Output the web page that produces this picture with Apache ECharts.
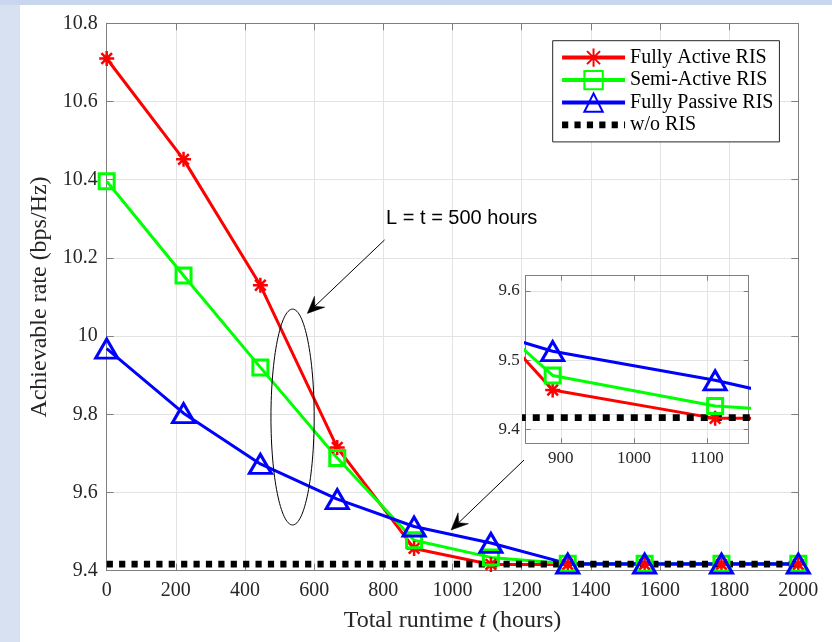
<!DOCTYPE html>
<html>
<head>
<meta charset="utf-8">
<script src="https://cdn.jsdelivr.net/npm/echarts@6/dist/echarts.min.js"></script>
<style>
  html, body { margin: 0; padding: 0; width: 832px; height: 642px; overflow: hidden; background: #d8e1f2; }
  #topband { position: absolute; left: 0; top: 0; width: 832px; height: 5px; background: #c8d6ee; }
  #paper { position: absolute; left: 20px; top: 5px; width: 812px; height: 637px; background: #ffffff; }
  #chart { position: absolute; left: 0; top: 0; width: 832px; height: 642px; }
</style>
</head>
<body>
<div id="topband"></div>
<div id="paper"></div>
<div id="chart"></div>
<script>
// Total runtime t (hours) at which each scheme is evaluated
const runtimeHours = [0, 222.2, 444.4, 666.7, 888.9, 1111.1, 1333.3, 1555.6, 1777.8, 2000];

// Achievable rate (bps/Hz)
const fullyActive  = [10.71, 10.452, 10.13, 9.715, 9.457, 9.416, 9.416, 9.416, 9.416, 9.416];
const semiActive   = [10.396, 10.155, 9.92, 9.688, 9.478, 9.434, 9.418, 9.418, 9.418, 9.418];
const fullyPassive = [9.968, 9.803, 9.673, 9.583, 9.513, 9.471, 9.418, 9.418, 9.418, 9.418];
const withoutRIS   = [9.417, 9.417, 9.417, 9.417, 9.417, 9.417, 9.417, 9.417, 9.417, 9.417];

const seriesNames = ['Fully Active RIS', 'Semi-Active RIS', 'Fully Passive RIS', 'w/o RIS'];

// Axis ranges
const mainX = { min: 0, max: 2000, interval: 200 };
const mainY = { min: 9.4, max: 10.8, interval: 0.2 };
const zoomX = { min: 852, max: 1157 };
const zoomY = { min: 9.38, max: 9.622 };

// Annotation anchors in data coordinates of the main axes
const calloutText = 'L = t = 500 hours';
const calloutTextAt = [808, 10.301];
const calloutArrow = [[803.6, 10.246], [580.1, 10.058]];
const ellipseXRange = [475, 600];
const ellipseYRange = [9.517, 10.069];
const zoomArrow = [[1206.8, 9.683], [995.7, 9.504]];

const SERIF = '"Liberation Serif", "Times New Roman", serif';
const SANS = '"Liberation Sans", Arial, sans-serif';
const AXIS_GREY = '#7f7f7f';
const GRID_GREY = '#e3e3e3';
const TEXT_DARK = '#262626';

const starPath = 'path://M0,-10L0,10M-10,0L10,0M-7.07,-7.07L7.07,7.07M-7.07,7.07L7.07,-7.07';

const pairs = (ys) => runtimeHours.map((x, i) => [x, ys[i]]);

function curves(xi, yi, dash) {
  const common = { type: 'line', xAxisIndex: xi, yAxisIndex: yi, clip: true, silent: true,
                   emphasis: { disabled: true }, animation: false };
  return [
    Object.assign({}, common, {
      name: seriesNames[0], data: pairs(fullyActive),
      symbol: starPath, symbolSize: 15,
      lineStyle: { color: '#ff0000', width: 3 },
      itemStyle: { color: '#ff0000', borderColor: '#ff0000', borderWidth: 2.5 }
    }),
    Object.assign({}, common, {
      name: seriesNames[1], data: pairs(semiActive),
      symbol: 'rect', symbolSize: 15,
      lineStyle: { color: '#00ff00', width: 3 },
      itemStyle: { color: 'rgba(0,0,0,0)', borderColor: '#00ff00', borderWidth: 3 }
    }),
    Object.assign({}, common, {
      name: seriesNames[2], data: pairs(fullyPassive),
      symbol: 'triangle', symbolSize: [22, 19],
      lineStyle: { color: '#0000ff', width: 3 },
      itemStyle: { color: 'rgba(0,0,0,0)', borderColor: '#0000ff', borderWidth: 3 }
    }),
    Object.assign({}, common, {
      name: seriesNames[3], data: pairs(withoutRIS),
      symbol: 'circle', showSymbol: false,
      lineStyle: { color: '#000000', width: 6.7, type: dash, cap: 'butt' },
      itemStyle: { color: 'rgba(0,0,0,0)' }
    })
  ];
}

function boxAxis(gridIndex, position, range, labelled, opts) {
  const ax = Object.assign({
    type: 'value', gridIndex: gridIndex, position: position,
    min: range.min, max: range.max,
    axisLine: { show: true, onZero: false, lineStyle: { color: AXIS_GREY, width: 1 } },
    axisTick: { show: true, inside: true, length: opts.tick, lineStyle: { color: AXIS_GREY, width: 1 } },
    axisLabel: { show: labelled, fontFamily: SERIF, fontSize: opts.font, color: TEXT_DARK, margin: opts.margin,
                 formatter: opts.formatter, showMinLabel: opts.edgeLabels, showMaxLabel: opts.edgeLabels },
    splitLine: { show: labelled, lineStyle: { color: GRID_GREY, width: 1 } }
  }, opts.extra || {});
  if (range.interval !== undefined) ax.interval = range.interval;
  return ax;
}

const hourLabel = (v) => String(Math.round(v));
const rateLabel = (v) => String(Number(v.toFixed(2)));

const chart = echarts.init(document.getElementById('chart'), null, { renderer: 'canvas' });

chart.setOption({
  animation: false,
  backgroundColor: 'transparent',
  grid: [
    { left: 106.7, top: 23.3, right: 33.7, bottom: 71.3 },
    { left: 525.7, top: 275.7, width: 223, height: 167.6 }
  ],
  xAxis: [
    boxAxis(0, 'bottom', mainX, true, {
      tick: 7, font: 20, margin: 10, formatter: hourLabel, edgeLabels: true,
      extra: {
        name: 'Total runtime {i|t} (hours)', nameLocation: 'middle', nameGap: 38,
        nameTextStyle: { fontFamily: SERIF, fontSize: 24, color: TEXT_DARK,
          rich: { i: { fontFamily: SERIF, fontSize: 24, fontStyle: 'italic', color: TEXT_DARK } } }
      }
    }),
    boxAxis(0, 'top', mainX, false, { tick: 7, font: 20, margin: 10 }),
    boxAxis(1, 'bottom', zoomX, true, {
      tick: 5, font: 17, margin: 7, formatter: hourLabel, edgeLabels: false,
      extra: { splitNumber: 3 }
    }),
    boxAxis(1, 'top', zoomX, false, { tick: 5, font: 17, margin: 7, extra: { splitNumber: 3 } })
  ],
  yAxis: [
    boxAxis(0, 'left', mainY, true, {
      tick: 7, font: 20, margin: 9, formatter: rateLabel, edgeLabels: true,
      extra: {
        name: 'Achievable rate (bps/Hz)', nameLocation: 'middle', nameGap: 54, nameRotate: 90,
        nameTextStyle: { fontFamily: SERIF, fontSize: 24, color: TEXT_DARK }
      }
    }),
    boxAxis(0, 'right', mainY, false, { tick: 7, font: 20, margin: 9 }),
    boxAxis(1, 'left', zoomY, true, {
      tick: 5, font: 17, margin: 6, formatter: rateLabel, edgeLabels: false,
      extra: { splitNumber: 2 }
    }),
    boxAxis(1, 'right', zoomY, false, { tick: 5, font: 17, margin: 6, extra: { splitNumber: 2 } })
  ],
  legend: {
    orient: 'vertical', left: 552.7, top: 40.7,
    padding: [6.7, 6, 7, 6], itemWidth: 63, itemHeight: 23, itemGap: 2.1,
    backgroundColor: '#ffffff', borderColor: '#262626', borderWidth: 1, borderRadius: 0,
    selectedMode: false,
    textStyle: { fontFamily: SERIF, fontSize: 20, color: '#000000', width: 148 },
    data: [
      { name: seriesNames[0], lineStyle: { width: 4 } },
      { name: seriesNames[1], lineStyle: { width: 4 } },
      { name: seriesNames[2], lineStyle: { width: 4 } },
      { name: seriesNames[3], lineStyle: { width: 6.7, type: [6.2, 6.2], cap: 'butt' } }
    ]
  },
  series: [].concat(curves(0, 0, [6.2, 6.2]), curves(2, 2, [7, 7]))
});

// Annotations: ellipse around the crossing region, callout text and arrows
const toPx = (pt) => chart.convertToPixel({ xAxisIndex: 0, yAxisIndex: 0 }, pt);

function arrow(from, to, headLen, headWidth) {
  const a = toPx(from), b = toPx(to);
  const dx = b[0] - a[0], dy = b[1] - a[1];
  const len = Math.hypot(dx, dy);
  const ux = dx / len, uy = dy / len;
  const nx = -uy, ny = ux;
  const back = [b[0] - ux * headLen, b[1] - uy * headLen];
  const notch = [b[0] - ux * headLen * 0.62, b[1] - uy * headLen * 0.62];
  return [
    { type: 'line', silent: true, z: 50,
      shape: { x1: a[0], y1: a[1], x2: notch[0], y2: notch[1] },
      style: { stroke: '#000', lineWidth: 1 } },
    { type: 'polygon', silent: true, z: 50,
      shape: { points: [
        b,
        [back[0] + nx * headWidth / 2, back[1] + ny * headWidth / 2],
        notch,
        [back[0] - nx * headWidth / 2, back[1] - ny * headWidth / 2]
      ] },
      style: { fill: '#000', stroke: '#000', lineWidth: 0.5 } }
  ];
}

const eTL = toPx([ellipseXRange[0], ellipseYRange[1]]);
const eBR = toPx([ellipseXRange[1], ellipseYRange[0]]);
const textPx = toPx(calloutTextAt);

chart.setOption({
  graphic: [
    { type: 'ellipse', silent: true, z: 50,
      shape: { cx: (eTL[0] + eBR[0]) / 2, cy: (eTL[1] + eBR[1]) / 2,
               rx: (eBR[0] - eTL[0]) / 2, ry: (eBR[1] - eTL[1]) / 2 },
      style: { fill: 'none', stroke: '#000', lineWidth: 1 } },
    { type: 'text', silent: true, z: 50, x: textPx[0], y: textPx[1],
      style: { text: calloutText, fontFamily: SANS, fontSize: 20, fill: '#000',
               align: 'left', verticalAlign: 'middle' } }
  ].concat(arrow(calloutArrow[0], calloutArrow[1], 17, 15), arrow(zoomArrow[0], zoomArrow[1], 17, 15))
});
</script>
</body>
</html>
